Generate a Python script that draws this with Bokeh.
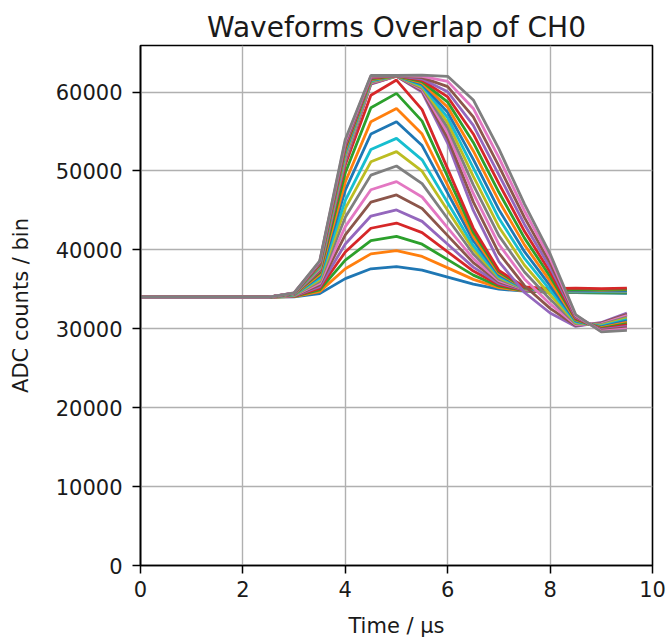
from bokeh.plotting import figure
from bokeh.models import Range1d, FixedTicker
from bokeh.palettes import Category10_10
from bokeh.embed import file_html
from bokeh.resources import INLINE

# Time samples (µs)
t_us = [0.0, 0.5, 1.0, 1.5, 2.0, 2.5, 3.0, 3.5, 4.0, 4.5,
        5.0, 5.5, 6.0, 6.5, 7.0, 7.5, 8.0, 8.5, 9.0, 9.5]

x_ticks = [0, 2, 4, 6, 8, 10]
y_ticks = [0, 10000, 20000, 30000, 40000, 50000, 60000]

# Non-saturated waveforms (ADC counts / bin)
wf01 = [34000, 34000, 34000, 34000, 34000, 34000, 34060, 34460, 36360, 37600, 37870, 37430, 36540, 35650, 35020, 34760, 34650, 34600, 34550, 34500]
wf02 = [34000, 34000, 34000, 34000, 34000, 34000, 34090, 34710, 37600, 39490, 39900, 39170, 37720, 36260, 35220, 34800, 34700, 34750, 34700, 34720]
wf03 = [34000, 34000, 34000, 34000, 34000, 34000, 34120, 34920, 38700, 41160, 41700, 40720, 38760, 36800, 35400, 34840, 34620, 34580, 34560, 34550]
wf04 = [34000, 34000, 34000, 34000, 34000, 34000, 34140, 35130, 39730, 42740, 43400, 42180, 39750, 37310, 35570, 34870, 34750, 34800, 34780, 34800]
wf05 = [34000, 34000, 34000, 34000, 34000, 34000, 34170, 35330, 40750, 44290, 45060, 43610, 40710, 37810, 35740, 34910, 34700, 34650, 34700, 34680]
wf06 = [34000, 34000, 34000, 34000, 34000, 34000, 34190, 35560, 41910, 46050, 46960, 45240, 41810, 38380, 35930, 34950, 34720, 34750, 34720, 34750]
wf07 = [34000, 34000, 34000, 34000, 34000, 34000, 34220, 35760, 42940, 47620, 48650, 46700, 42790, 38890, 36100, 34980, 34750, 34700, 34750, 34700]
wf08 = [34000, 34000, 34000, 34000, 34000, 34000, 34250, 36000, 44140, 49470, 50630, 48400, 43940, 39480, 36290, 35020, 34750, 34800, 34760, 34800]
wf09 = [34000, 34000, 34000, 34000, 34000, 34000, 34280, 36210, 45250, 51160, 52450, 49970, 45000, 40030, 36480, 35060, 34780, 34750, 34800, 34780]
wf10 = [34000, 34000, 34000, 34000, 34000, 34000, 34300, 36420, 46280, 52720, 54130, 51410, 45970, 40530, 36640, 35090, 34800, 34780, 34750, 34800]
wf11 = [34000, 34000, 34000, 34000, 34000, 34000, 34330, 36670, 47570, 54680, 56240, 53220, 47190, 41160, 36850, 35130, 34850, 34800, 34850, 34820]
wf12 = [34000, 34000, 34000, 34000, 34000, 34000, 34360, 36870, 48600, 56250, 57930, 54680, 48170, 41670, 37020, 35160, 34900, 34950, 34900, 34950]
wf13 = [34000, 34000, 34000, 34000, 34000, 34000, 34390, 37100, 49760, 58020, 59830, 56310, 49280, 42240, 37210, 35200, 35000, 34950, 35000, 35000]
wf14 = [34000, 34000, 34000, 34000, 34000, 34000, 34410, 37300, 50790, 59590, 61520, 57770, 50260, 42750, 37380, 35300, 35100, 35150, 35100, 35150]

# Saturated waveforms (ADC counts / bin)
wf15 = [34000, 34000, 34000, 34000, 34000, 34000, 34420, 37400, 51200, 61000, 62000, 60000, 53500, 45000, 38500, 34600, 32000, 30300, 30800, 32000]
wf16 = [34000, 34000, 34000, 34000, 34000, 34000, 34430, 37490, 51420, 61080, 62010, 60170, 54150, 46080, 39600, 35460, 32580, 30420, 30710, 31830]
wf17 = [34000, 34000, 34000, 34000, 34000, 34000, 34440, 37580, 51630, 61170, 62020, 60330, 54810, 47150, 40700, 36320, 33150, 30530, 30620, 31660]
wf18 = [34000, 34000, 34000, 34000, 34000, 34000, 34450, 37680, 51850, 61250, 62020, 60500, 55460, 48230, 41800, 37190, 33730, 30650, 30520, 31490]
wf19 = [34000, 34000, 34000, 34000, 34000, 34000, 34460, 37770, 52060, 61340, 62030, 60660, 56120, 49310, 42900, 38050, 34310, 30760, 30430, 31320]
wf20 = [34000, 34000, 34000, 34000, 34000, 34000, 34470, 37860, 52280, 61420, 62040, 60830, 56770, 50380, 44000, 38910, 34890, 30880, 30340, 31150]
wf21 = [34000, 34000, 34000, 34000, 34000, 34000, 34480, 37950, 52490, 61510, 62050, 60990, 57420, 51460, 45100, 39770, 35460, 31000, 30250, 30990]
wf22 = [34000, 34000, 34000, 34000, 34000, 34000, 34490, 38050, 52710, 61590, 62050, 61160, 58080, 52540, 46200, 40630, 36040, 31110, 30150, 30820]
wf23 = [34000, 34000, 34000, 34000, 34000, 34000, 34500, 38140, 52920, 61680, 62060, 61320, 58730, 53620, 47300, 41490, 36620, 31220, 30060, 30650]
wf24 = [34000, 34000, 34000, 34000, 34000, 34000, 34510, 38230, 53140, 61760, 62070, 61490, 59380, 54690, 48400, 42350, 37190, 31340, 29970, 30480]
wf25 = [34000, 34000, 34000, 34000, 34000, 34000, 34520, 38320, 53350, 61850, 62080, 61650, 60040, 55770, 49500, 43220, 37770, 31450, 29880, 30310]
wf26 = [34000, 34000, 34000, 34000, 34000, 34000, 34530, 38420, 53570, 61930, 62080, 61820, 60690, 56850, 50600, 44080, 38350, 31570, 29780, 30140]
wf27 = [34000, 34000, 34000, 34000, 34000, 34000, 34540, 38510, 53780, 62020, 62090, 61980, 61350, 57920, 51700, 44940, 38920, 31680, 29690, 29970]
wf28 = [34000, 34000, 34000, 34000, 34000, 34000, 34550, 38600, 54000, 62100, 62100, 62150, 62000, 59000, 52800, 45800, 39500, 31800, 29600, 29800]

waveforms = [wf01, wf02, wf03, wf04, wf05, wf06, wf07, wf08, wf09, wf10,
             wf11, wf12, wf13, wf14, wf15, wf16, wf17, wf18, wf19, wf20,
             wf21, wf22, wf23, wf24, wf25, wf26, wf27, wf28]

FONT = "DejaVu Sans"
TXT = "#1a1a1a"

p = figure(width=667, height=640, output_backend="svg", toolbar_location=None,
           x_range=Range1d(0, 10), y_range=Range1d(0, 65900),
           min_border_left=140, min_border_right=15,
           min_border_top=45, min_border_bottom=75,
           title="Waveforms Overlap of CH0")

p.background_fill_color = "white"
p.border_fill_color = "white"
p.outline_line_color = "black"
p.outline_line_width = 1.6
p.outline_line_alpha = 1.0

p.title.align = "center"
p.title.text_font = FONT
p.title.text_font_size = "28px"
p.title.text_font_style = "normal"
p.title.text_color = TXT
p.title.offset = 0
p.title.standoff = 4

for i, wf in enumerate(waveforms):
    p.line(t_us, wf, line_color=Category10_10[i % 10], line_width=2.8)

p.xaxis.ticker = FixedTicker(ticks=x_ticks)
p.yaxis.ticker = FixedTicker(ticks=y_ticks)

for ax in (p.xaxis[0], p.yaxis[0]):
    ax.axis_line_color = "black"
    ax.axis_line_width = 1.6
    ax.major_tick_line_color = "black"
    ax.major_tick_line_width = 1.5
    ax.major_tick_out = 8
    ax.major_tick_in = 0
    ax.minor_tick_out = 0
    ax.minor_tick_in = 0
    ax.major_label_text_font = FONT
    ax.major_label_text_font_size = "21px"
    ax.major_label_text_color = TXT
    ax.axis_label_text_font = FONT
    ax.axis_label_text_font_size = "21px"
    ax.axis_label_text_font_style = "normal"
    ax.axis_label_text_color = TXT

p.xaxis.axis_label = "Time / μs"
p.yaxis.axis_label = "ADC counts / bin"
p.xaxis.major_label_standoff = 7
p.yaxis.major_label_standoff = 10
p.xaxis.axis_label_standoff = 14
p.yaxis.axis_label_standoff = 20

p.xgrid.grid_line_color = "#b0b0b0"
p.ygrid.grid_line_color = "#b0b0b0"
p.xgrid.grid_line_width = 1.4
p.ygrid.grid_line_width = 1.4

open("out.html", "w").write(file_html(p, INLINE))
